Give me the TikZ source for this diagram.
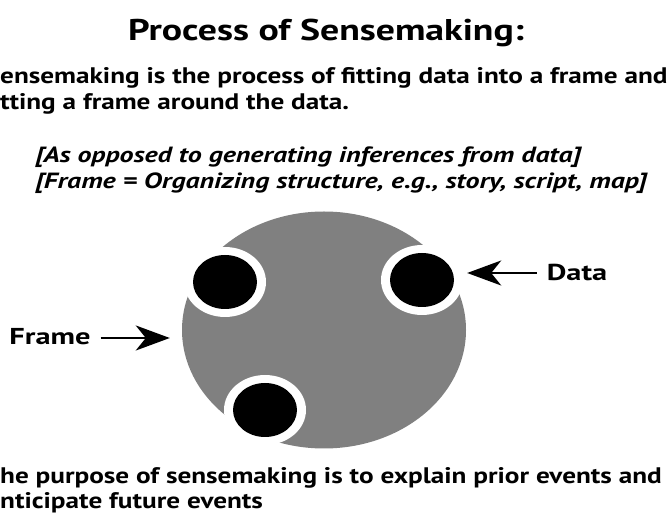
\documentclass[tikz,border=0pt]{standalone}
\usepackage{fontspec}
\setmainfont{PT Sans}
% widened cuts of the same family for the different text roles
\newfontfamily\titlefont[FakeStretch=1.26]{PT Sans}
\newfontfamily\bodyfont[FakeStretch=1.21]{PT Sans}
\newfontfamily\notefont[FakeStretch=1.27]{PT Sans}
\newfontfamily\tagfont[FakeStretch=1.32]{PT Sans}
\usetikzlibrary{arrows.meta,shapes.geometric}

\tikzset{
  heading/.style={font=\titlefont\bfseries\fontsize{30}{36}\selectfont, inner sep=0pt},
  bodyline/.style={anchor=west, font=\bodyfont\bfseries\fontsize{22.5}{26}\selectfont, inner sep=0pt},
  noteline/.style={anchor=west, font=\notefont\bfseries\itshape\fontsize{22}{26}\selectfont, inner sep=0pt},
  tag/.style={font=\tagfont\bfseries\fontsize{23}{26}\selectfont, inner sep=0pt},
  frameball/.style={ellipse, fill=black!50, minimum width=284pt, minimum height=237pt, inner sep=0pt},
  dotring/.style={ellipse, fill=white, minimum width=82pt, minimum height=70pt, inner sep=0pt},
  datadot/.style={ellipse, fill=black, minimum width=64pt, minimum height=54pt, inner sep=0pt},
  pointer/.style={line width=2.7pt, -{Stealth[length=34pt, width=25pt, inset=10pt]}}
}

\begin{document}
\begin{tikzpicture}[x=1pt, y=-1pt]
\useasboundingbox (0,0) rectangle (667,526);

% heading and explanatory text
\node[heading] (title) at (326,33) {Process of Sensemaking:};
\node[bodyline] (def1) at (0,78) {ensemaking is the process of fitting data into a frame and};
\node[bodyline] (def2) at (0,104) {tting a frame around the data.};
\node[noteline] (note1) at (35,157) {[As opposed to generating inferences from data]};
\node[noteline] (note2) at (35,183) {[Frame = Organizing structure, e.g., story, script, map]};
\node[bodyline] (aim1) at (0,478) {he purpose of sensemaking is to explain prior events and};
\node[bodyline] (aim2) at (0,503) {nticipate future events};

% the frame with three pieces of data set into it
\node[frameball] (frame) at (324,330) {};
\node[dotring] (ringA) at (225,282) {};
\node[dotring] (ringB) at (422,280) {};
\node[dotring] (ringC) at (265,410) {};
\node[datadot] (dotA) at (ringA) {};
\node[datadot] (dotB) at (ringB) {};
\node[datadot] (dotC) at (ringC) {};

% labels and pointers
\node[tag] (datalabel) at (577,272) {Data};
\node[tag] (framelabel) at (50,337) {Frame};
\coordinate (dataStart) at ([xshift=-10pt]datalabel.west |- 0,273);
\coordinate (frameStart) at ([xshift=10pt]framelabel.east |- 0,338);
\draw[pointer] (dataStart) -- ([xshift=4pt]ringB.east |- dataStart);
\draw[pointer] (frameStart) -- ([xshift=-12pt]frame.west |- frameStart);
\end{tikzpicture}
\end{document}
